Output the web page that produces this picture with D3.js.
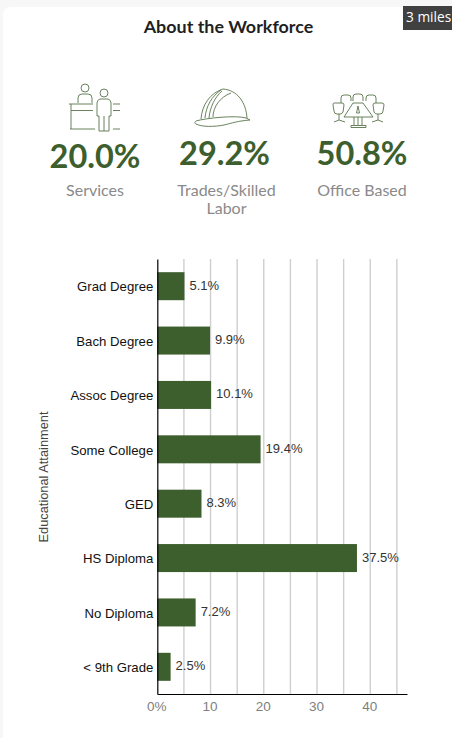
<!DOCTYPE html>
<html>
<head>
<meta charset="utf-8">
<script src="https://cdn.jsdelivr.net/npm/d3@7"></script>
<style>
    html, body { margin: 0; padding: 0; background: #f7f7f7; width: 452px; height: 738px; overflow: hidden; }
    svg { display: block; }
</style>
</head>
<body>
<div id="chart"></div>
<script>
// educational attainment bars
const categories = ["Grad Degree", "Bach Degree", "Assoc Degree", "Some College", "GED", "HS Diploma", "No Diploma", "< 9th Grade"];
const values = [5.1, 9.9, 10.1, 19.4, 8.3, 37.5, 7.2, 2.5];
const gridTicks = [5, 10, 15, 20, 25, 30, 35, 40, 45];
const labelTicks = [0, 10, 20, 30, 40];

// workforce summary
const statValues = ["20.0%", "29.2%", "50.8%"];
const statNames = [["Services"], ["Trades/Skilled", "Labor"], ["Office Based"]];

const green = "#3d5e2d";
const uiFont = "Lato, 'Open Sans', sans-serif";
const chartFont = "'Liberation Sans', Arial, sans-serif";

const svg = d3.select("#chart").append("svg")
    .attr("width", 452)
    .attr("height", 738);

// card
svg.append("rect")
    .attr("x", 3).attr("y", 7)
    .attr("width", 460).attr("height", 740)
    .attr("rx", 8)
    .attr("fill", "white");

svg.append("text")
    .attr("x", 228.5).attr("y", 33)
    .attr("text-anchor", "middle")
    .attr("font-family", uiFont)
    .attr("font-size", 17.9)
    .attr("font-weight", 700)
    .attr("fill", "#1f1f1f")
    .text("About the Workforce");

// radius tag
svg.append("rect")
    .attr("x", 403).attr("y", 6)
    .attr("width", 49).attr("height", 24)
    .attr("fill", "#404040");

svg.append("text")
    .attr("x", 406).attr("y", 22)
    .attr("font-family", "'Open Sans', sans-serif")
    .attr("font-size", 13.7)
    .attr("fill", "white")
    .text("3 miles");

// stat blocks
const statCenters = [95, 226.5, 362];
const numberCenters = [95, 224.5, 362];
const statY = [168, 165, 165];

statValues.forEach((v, i) => {
    svg.append("text")
        .attr("x", numberCenters[i]).attr("y", statY[i])
        .attr("text-anchor", "middle")
        .attr("font-family", uiFont)
        .attr("font-size", 32.5)
        .attr("font-weight", 700)
        .attr("fill", green)
        .text(v);

    statNames[i].forEach((line, j) => {
        svg.append("text")
            .attr("x", statCenters[i]).attr("y", 196 + j * 18)
            .attr("text-anchor", "middle")
            .attr("font-family", uiFont)
            .attr("font-size", 16)
            .attr("fill", "#8a8a8a")
            .text(line);
    });
});

// icons, thin outline drawings
const icons = svg.append("g")
    .attr("fill", "none")
    .attr("stroke", green)
    .attr("stroke-width", 0.9)
    .attr("opacity", 0.85);

const iconPaths = [
    // reception desk and two people
    "M81,88a4,4 0 1,0 8,0a4,4 0 1,0 -8,0",
    "M78,103v-5q0,-4 4,-4h6q4,0 4,4v5",
    "M100,93a4,4 0 1,0 8,0a4,4 0 1,0 -8,0",
    "M97,116v-13q0,-3 3,-4h8q3,1 3,4v13h-2v15h-10v-15z",
    "M104,116v15",
    "M69,104h24M71,110.500h22M71,104v25M70,129h25",
    "M113,104h7M113,110.500h7M113,129h7",
    // hard hat
    "M196,121c10,-3 40,-6 50,-3l4,2c-12,1 -18,3 -26,5c-10,2 -22,2 -28,-1c-2,-1 -1,-2 0,-3z",
    "M201,119c1,-14 9,-26 22,-30c14,1 23,13 24,29",
    "M205,118c1,-12 7,-22 16,-28",
    "M209,118c1,-11 6,-21 13,-27",
    "M213,117c0,-10 7,-20 18,-24",
    // meeting room
    "M353,103l-9,14h29l-10,-14z",
    "M358,106l-1.500,7h3l-1.500,-7z",
    "M358,117v8M354,117v8M362,117v8M351,127.500h15M351,127.500v-2h15v2",
    "M341,103v-5q0,-3 3,-3h4q3,0 3,3v3",
    "M353,101v-4q0,-3 3,-3h4q3,0 3,3v4",
    "M366,101v-3q0,-3 3,-3h4q3,0 3,3v5",
    "M335,103h7q2,0 2,2l-1,7q-1,2 -3,2h-3q-3,0 -3,-3l-1,-6q0,-2 1,-2z",
    "M375,103h7q2,0 2,2l-1,6q0,3 -3,3h-3q-2,0 -3,-2l-1,-7q0,-2 2,-2z",
    "M339,114v6M334,122l5,-2l6,2",
    "M378,114v6M372,122l6,-2l5,2"
];

icons.selectAll("path")
    .data(iconPaths)
    .enter().append("path")
    .attr("d", d => d);

// bar chart
const margin = {top: 259, right: 45, bottom: 44, left: 157.3};
const width = 452 - margin.left - margin.right;
const height = 738 - margin.top - margin.bottom;

const plot = svg.append("g")
    .attr("transform", `translate(${margin.left}, ${margin.top})`);

const x = d3.scaleLinear()
    .domain([0, 46.9])
    .range([0, width]);

const y = d3.scaleBand()
    .domain(categories)
    .range([0, height])
    .paddingInner(0.485)
    .paddingOuter(0.2425);

// grid
plot.selectAll(".grid")
    .data(gridTicks)
    .enter().append("line")
    .attr("class", "grid")
    .attr("x1", d => x(d)).attr("x2", d => x(d))
    .attr("y1", 0).attr("y2", height)
    .attr("stroke", "#cfcfcf")
    .attr("stroke-width", 1.4);

// bars
plot.selectAll(".bar")
    .data(values)
    .enter().append("rect")
    .attr("class", "bar")
    .attr("x", 0)
    .attr("y", (d, i) => y(categories[i]))
    .attr("width", d => x(d))
    .attr("height", y.bandwidth())
    .attr("fill", green);

// value labels
plot.selectAll(".value")
    .data(values)
    .enter().append("text")
    .attr("class", "value")
    .attr("x", d => x(d) + 5)
    .attr("y", (d, i) => y(categories[i]) + y.bandwidth() / 2 + 3.5)
    .attr("font-family", chartFont)
    .attr("font-size", 13)
    .attr("fill", "#333")
    .text(d => d.toFixed(1) + "%");

// axes
const yAxis = plot.append("g")
    .call(d3.axisLeft(y).tickSize(0).tickPadding(4));

yAxis.select(".domain").attr("stroke", "black").attr("stroke-width", 1.2);
yAxis.selectAll("text")
    .attr("font-family", chartFont)
    .attr("font-size", 13.2)
    .attr("dy", "0.4em")
    .attr("fill", "#111");

const xAxis = plot.append("g")
    .attr("transform", `translate(0, ${height})`)
    .call(d3.axisBottom(x)
        .tickValues(labelTicks)
        .tickSize(0)
        .tickPadding(7)
        .tickFormat(d => d === 0 ? "0%" : d));

xAxis.select(".domain").attr("stroke", "black").attr("stroke-width", 1.2);
xAxis.selectAll("text")
    .attr("font-family", chartFont)
    .attr("font-size", 13.5)
    .attr("dx", -1)
    .attr("fill", "#808080");

// axis title
svg.append("text")
    .attr("transform", "translate(47.500, 477) rotate(-90)")
    .attr("text-anchor", "middle")
    .attr("font-family", chartFont)
    .attr("font-size", 12.8)
    .attr("fill", "#444")
    .text("Educational Attainment");
</script>
</body>
</html>
